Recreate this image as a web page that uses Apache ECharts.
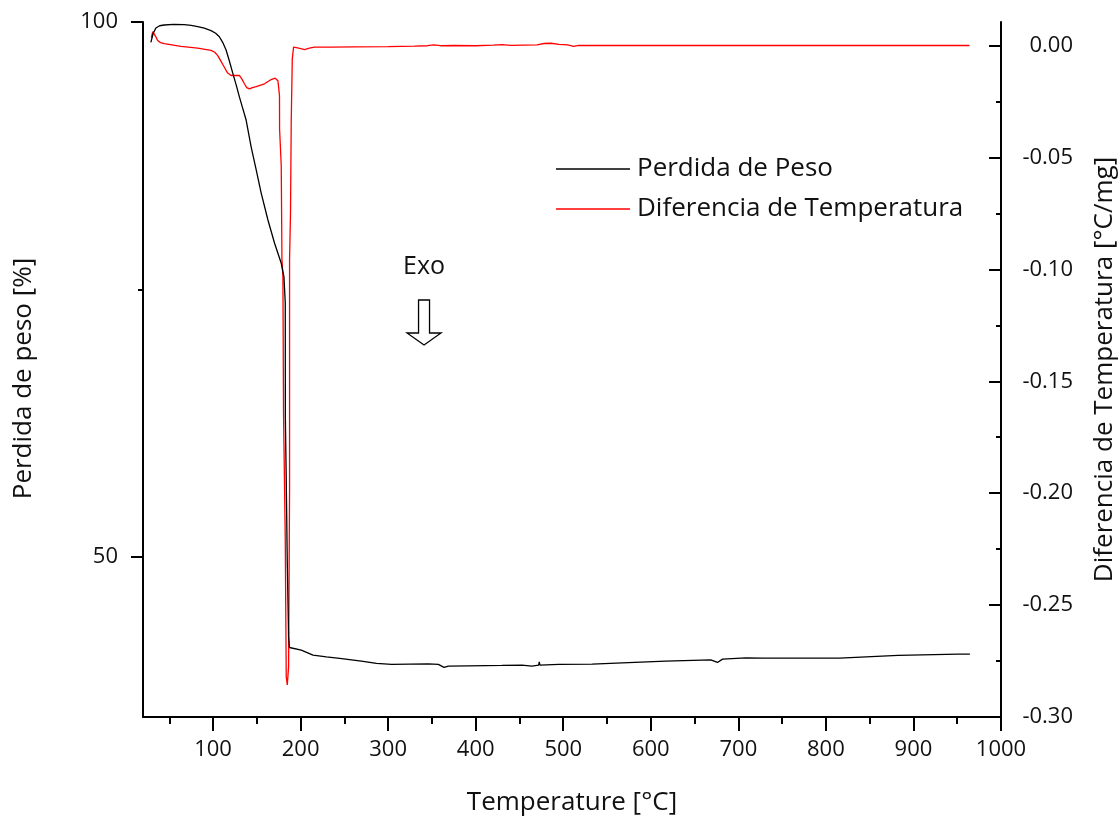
<!DOCTYPE html>
<html>
<head>
<meta charset="utf-8">
<script src="https://cdn.jsdelivr.net/npm/echarts@6/dist/echarts.min.js"></script>
<style>
  html, body { margin: 0; padding: 0; background: #ffffff; overflow: hidden; }
  #chart { width: 1120px; height: 818px; }
</style>
</head>
<body>
<div id="chart"></div>
<script>
// Thermogravimetric curve: temperature [°C] and remaining mass [%]
const weightTemp = [
  29.0, 31.5, 34.7, 39.0, 44.2, 55.0, 67.1, 75.0, 82.5, 90.0,
  97.7, 103.0, 107.2, 111.0, 114.9, 118.5, 122.6, 126.5, 130.1, 134.0,
  137.8, 143.5, 149.3, 155.0, 162.7, 170.2, 177.9, 181.0, 182.5, 182.6,
  183.6, 184.8, 186.3, 187.3, 200.8, 214.2, 229.4, 244.7, 269.4, 286.7,
  303.9, 345.9, 357.4, 363.8, 368.8, 391.8, 429.9, 452.8, 464.3, 471.9,
  472.6, 473.4, 494.8, 533.0, 567.4, 617.0, 668.5, 676.2, 681.9, 708.6,
  727.7, 815.6, 816.2, 882.4, 951.1, 964.5
];
const weightPct = [
  98.1, 98.9, 99.44, 99.65, 99.72, 99.78, 99.75, 99.68, 99.56, 99.42,
  99.19, 98.95, 98.62, 98.1, 97.38, 96.4, 95.2, 94.1, 93.0, 91.9,
  90.83, 88.33, 86.16, 84.0, 81.48, 79.33, 77.43, 76.17, 73.7, 63.0,
  57.2, 49.4, 42.5, 41.5, 41.25, 40.79, 40.63, 40.48, 40.23, 40.01,
  39.92, 39.97, 39.92, 39.64, 39.76, 39.78, 39.82, 39.85, 39.76, 39.85,
  40.16, 39.85, 39.92, 39.94, 40.07, 40.22, 40.35, 40.10, 40.41, 40.53,
  40.5, 40.5, 40.62, 40.76, 40.88, 40.88
];

// Differential thermal signal: temperature [°C] and difference [°C/mg]
const dtaTemp = [
  29.5, 31.2, 32.8, 34.5, 36.7, 40.0, 44.2, 63.3, 82.5, 97.7,
  102.0, 105.4, 109.0, 112.9, 116.5, 120.6, 130.1, 133.0, 135.8, 138.5,
  141.6, 145.0, 149.3, 158.8, 166.4, 171.0, 174.1, 175.9, 176.0, 177.9,
  178.7, 179.8, 180.5, 182.5, 183.6, 184.8, 186.3, 187.4, 187.4, 188.5,
  189.3, 190.5, 192.0, 198.0, 204.6, 210.0, 216.0, 235.0, 260.0, 300.0,
  330.0, 345.0, 352.0, 360.0, 375.0, 400.0, 420.0, 430.0, 440.0, 470.0,
  478.0, 486.0, 495.0, 505.0, 512.0, 518.0, 560.0, 650.0, 800.0, 964.0
];
const dtaValue = [
  0.0035, 0.0062, 0.0068, 0.0040, 0.0022, 0.0013, 0.0008, -0.0004, -0.0012, -0.0022,
  -0.0030, -0.0045, -0.0070, -0.0097, -0.0122, -0.0134, -0.0134, -0.0150, -0.0171, -0.0188,
  -0.0194, -0.0188, -0.0184, -0.0171, -0.0152, -0.0146, -0.0157, -0.0224, -0.0373, -0.0537,
  -0.0955, -0.1030, -0.1640, -0.2208, -0.2820, -0.2857, -0.2775, -0.1984, -0.0955, -0.0745,
  -0.0343, -0.0060, -0.0007, -0.0012, -0.0018, -0.0012, -0.0007, -0.0007, -0.0006, -0.0005,
  -0.0003, -0.0001, 0.0003, -0.0001, 0.0000, -0.0001, 0.0002, 0.0004, 0.0001, 0.0003,
  0.0009, 0.0010, 0.0005, 0.0003, -0.0004, 0.0001, 0.0000, 0.0000, 0.0000, 0.0000
];

const seriesNames = ['Perdida de Peso', 'Diferencia de Temperatura'];
const xTickValues = [100, 200, 300, 400, 500, 600, 700, 800, 900, 1000];
const xMinorValues = [50, 150, 250, 350, 450, 550, 650, 750, 850, 950];
const weightTickValues = [50, 100];
const weightMinorValues = [75];
const dtaTickValues = [-0.30, -0.25, -0.20, -0.15, -0.10, -0.05, 0.00];
const dtaMinorValues = [-0.275, -0.225, -0.175, -0.125, -0.075, -0.025];

// Annotation: the "Exo" arrow, anchored in data space (temperature, mass %)
const exoAnchor = [341, 74.0];

const FONT = "'Open Sans', 'Noto Sans', sans-serif";
const INK = '#111111';

const zip = (xs, ys) => xs.map((x, i) => [x, ys[i]]);

const chart = echarts.init(document.getElementById('chart'), null, { renderer: 'canvas' });

const tickStyle = { color: '#000', width: 2 };

const option = {
  animation: false,
  backgroundColor: '#ffffff',
  grid: {
    left: 143, right: 119, top: 22, bottom: 101,
    containLabel: false,
    outerBoundsMode: 'none'
  },
  legend: {
    orient: 'vertical',
    left: 551,
    top: 151,
    icon: 'rect',
    itemWidth: 74,
    itemHeight: 1.4,
    itemGap: 14,
    selectedMode: false,
    textStyle: { fontFamily: FONT, fontSize: 26, color: INK, padding: [0, 0, 0, 2] },
    data: seriesNames
  },
  xAxis: [
    {
      type: 'value', min: 20, max: 1000, position: 'bottom',
      name: 'Temperature [°C]', nameLocation: 'middle', nameGap: 73,
      nameTextStyle: { fontFamily: FONT, fontSize: 26, color: INK },
      axisLine: { show: true, onZero: false, lineStyle: tickStyle },
      axisTick: { show: true, customValues: xTickValues, length: 14, lineStyle: tickStyle },
      axisLabel: {
        customValues: xTickValues, fontFamily: FONT, fontSize: 22, color: INK, margin: 22,
        formatter: v => String(v)
      },
      splitLine: { show: false }
    },
    {
      type: 'value', min: 20, max: 1000, position: 'bottom',
      axisLine: { show: false, onZero: false },
      axisTick: { show: true, customValues: xMinorValues, length: 7, lineStyle: tickStyle },
      axisLabel: { show: false },
      splitLine: { show: false }
    }
  ],
  yAxis: [
    {
      type: 'value', min: 35, max: 100, position: 'left',
      name: 'Perdida de peso [%]', nameLocation: 'middle', nameGap: 106, nameRotate: 90,
      nameTextStyle: { fontFamily: FONT, fontSize: 26, color: INK, padding: [0, 18, 0, 0] },
      axisLine: { show: true, onZero: false, lineStyle: tickStyle },
      axisTick: { show: true, customValues: weightTickValues, length: 12, lineStyle: tickStyle },
      axisLabel: {
        customValues: weightTickValues, fontFamily: FONT, fontSize: 22, color: INK, margin: 25,
        formatter: v => String(v)
      },
      splitLine: { show: false }
    },
    {
      type: 'value', min: -0.30, max: 0.0105, position: 'right',
      name: 'Diferencia de Temperatura [°C/mg]', nameLocation: 'middle', nameGap: 91, nameRotate: 90,
      nameTextStyle: { fontFamily: FONT, fontSize: 26, color: INK },
      axisLine: { show: true, onZero: false, lineStyle: tickStyle },
      axisTick: { show: true, inside: true, customValues: dtaTickValues, length: 12, lineStyle: tickStyle },
      axisLabel: {
        customValues: dtaTickValues, fontFamily: FONT, fontSize: 22, color: INK,
        align: 'right', margin: 72,
        formatter: v => (Math.abs(v) < 1e-9 ? 0 : v).toFixed(2)
      },
      splitLine: { show: false }
    },
    {
      type: 'value', min: 35, max: 100, position: 'left',
      axisLine: { show: false, onZero: false },
      axisTick: { show: true, customValues: weightMinorValues, length: 5, lineStyle: tickStyle },
      axisLabel: { show: false },
      splitLine: { show: false }
    },
    {
      type: 'value', min: -0.30, max: 0.0105, position: 'right',
      axisLine: { show: false, onZero: false },
      axisTick: { show: true, inside: true, customValues: dtaMinorValues, length: 5, lineStyle: tickStyle },
      axisLabel: { show: false },
      splitLine: { show: false }
    }
  ],
  series: [
    {
      name: seriesNames[0], type: 'line', xAxisIndex: 0, yAxisIndex: 0,
      data: zip(weightTemp, weightPct),
      symbol: 'none', z: 4,
      lineStyle: { color: '#000000', width: 1.3 },
      itemStyle: { color: '#000000' }
    },
    {
      name: seriesNames[1], type: 'line', xAxisIndex: 0, yAxisIndex: 1,
      data: zip(dtaTemp, dtaValue),
      symbol: 'none', z: 3,
      lineStyle: { color: '#ff0000', width: 1.3 },
      itemStyle: { color: '#ff0000' }
    }
  ]
};

chart.setOption(option);

// Place the "Exo" label and hollow arrow from the data-space anchor
const p = chart.convertToPixel({ xAxisIndex: 0, yAxisIndex: 0 }, exoAnchor);
chart.setOption({
  graphic: [
    {
      type: 'text', x: p[0], y: p[1] - 33,
      style: {
        text: 'Exo', fontFamily: FONT, fontSize: 25, fill: INK,
        align: 'center', verticalAlign: 'middle'
      }
    },
    {
      type: 'polygon', x: p[0], y: p[1],
      shape: {
        points: [[-5.5, 0], [5.5, 0], [5.5, 33], [17, 33], [0, 45], [-17, 33], [-5.5, 33]]
      },
      style: { fill: '#ffffff', stroke: '#000000', lineWidth: 1.3 }
    }
  ]
});
</script>
</body>
</html>
